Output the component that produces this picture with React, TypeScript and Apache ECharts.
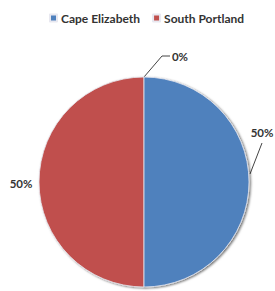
import React, { useEffect, useRef } from "react";
import * as echarts from "echarts";

const categories = ["Cape Elizabeth", "South Portland", "Other"];
const values = [50, 50, 0];
const percentLabels = ["50%", "50%", "0%"];
const colors = ["#4F81BD", "#C0504D", "#9BBB59"];
const legendNames = ["Cape Elizabeth", "South Portland"];

export default function App() {
  const ref = useRef<HTMLDivElement>(null);
  useEffect(() => {
    document.body.style.margin = "0";
    const chart = echarts.init(ref.current!, null, { renderer: "svg" });
    // draw order: South Portland first, then Cape Elizabeth, then zero slice
    const order = [1, 0, 2];
    const data = order.map((i) => ({
      name: categories[i],
      value: values[i],
      itemStyle: { color: colors[i] },
      label: { formatter: percentLabels[i] },
      labelLine: { show: i !== 1 },
    }));
    chart.setOption({
      animation: false,
      legend: {
        data: legendNames,
        top: 7,
        left: 44,
        icon: "rect",
        itemWidth: 7,
        itemHeight: 7,
        itemGap: 12,
        selectedMode: false,
        textStyle: {
          fontFamily: "Lato",
          fontWeight: "bold",
          fontSize: 12,
          color: "#333",
          padding: [0, 0, 0, -1],
        },
      },
      series: [
        {
          type: "pie",
          radius: 105,
          center: [144, 182],
          startAngle: 90,
          clockwise: false,
          data,
          itemStyle: {
            borderColor: "#e8e8f0",
            borderWidth: 0.8,
            shadowBlur: 2,
            shadowColor: "rgba(0,0,0,0.55)",
            shadowOffsetX: 1.5,
            shadowOffsetY: 1,
          },
          label: {
            show: true,
            position: "outside",
            overflow: "none",
            edgeDistance: 0,
            fontFamily: "Lato",
            fontWeight: "bold",
            fontSize: 11.5,
            color: "#333",
          },
          labelLine: {
            show: true,
            lineStyle: { color: "#444", width: 1 },
          },
          emphasis: { disabled: true },
          labelLayout: (params: any) => {
            const name = categories[order[params.dataIndex]];
            if (name === "Cape Elizabeth") {
              return {
                x: 262,
                y: 132,
                align: "center",
                verticalAlign: "middle",
                labelLinePoints: [
                  [250, 174],
                  [262, 143],
                  [262, 143],
                ],
              };
            }
            if (name === "South Portland") {
              return { x: 21, y: 183, align: "center", verticalAlign: "middle" };
            }
            return {
              x: 180,
              y: 56,
              align: "center",
              verticalAlign: "middle",
              labelLinePoints: [
                [144, 77],
                [162, 56],
                [170, 56],
              ],
            };
          },
        },
      ],
    });
    return () => chart.dispose();
  }, []);
  return <div ref={ref} style={{ width: 275, height: 291 }} />;
}
